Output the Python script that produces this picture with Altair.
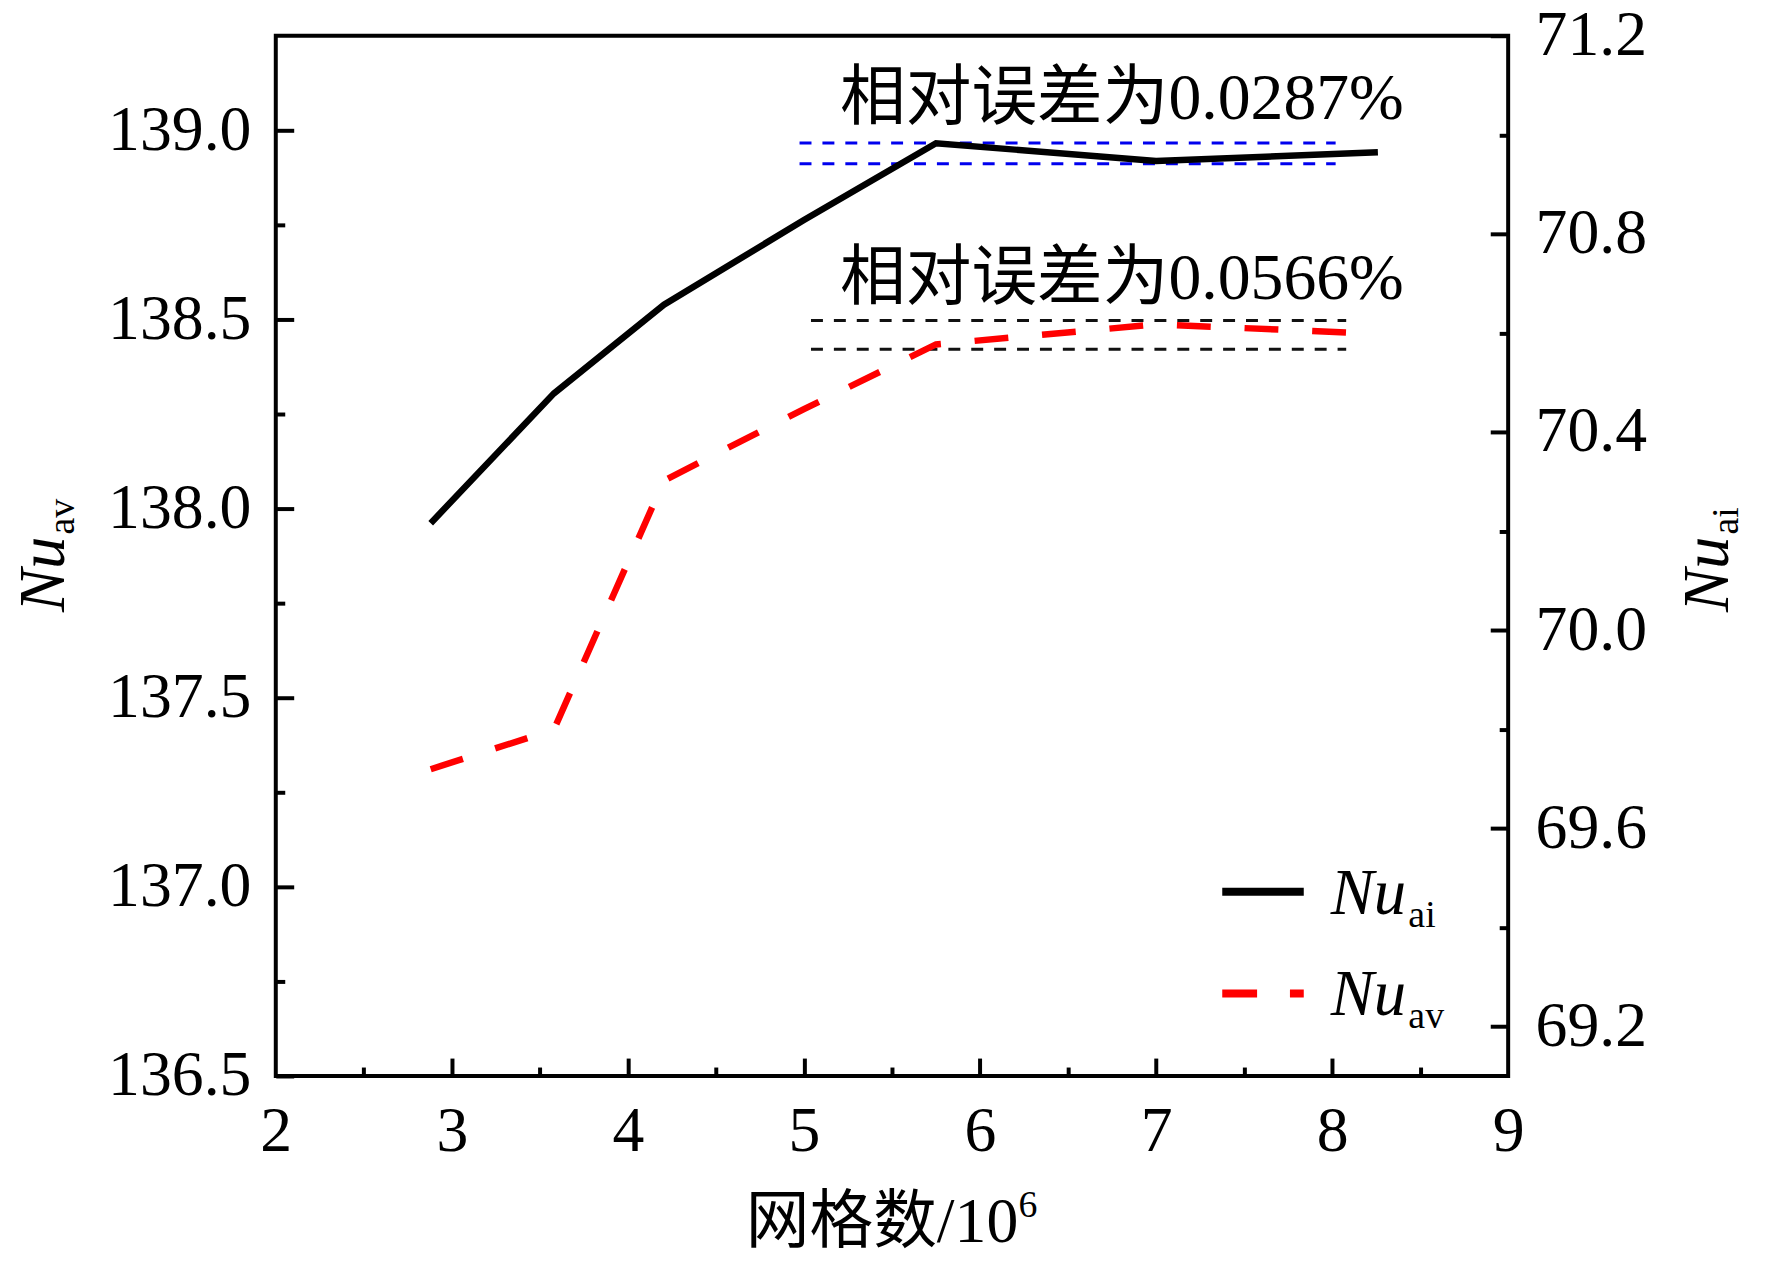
import altair as alt
import pandas as pd

# ---------------- data ----------------
grid = [2.88, 3.58, 4.205, 5.0, 5.75, 7.0, 8.26]          # 网格数 / 10^6
nu_ai = [70.216, 70.478, 70.657, 70.828, 70.983, 70.947, 70.965]   # right axis
nu_av = [137.311, 137.416, 138.074, 138.263, 138.434, 138.487, 138.462]  # left axis

x_ticks = [2, 3, 4, 5, 6, 7, 8, 9]
x_major_inner = [3, 4, 5, 6, 7, 8]
x_minor = [2.5, 3.5, 4.5, 5.5, 6.5, 7.5, 8.5]
av_ticks = [136.5, 137.0, 137.5, 138.0, 138.5, 139.0]
av_minor = [136.75, 137.25, 137.75, 138.25, 138.75]
ai_ticks = [69.2, 69.6, 70.0, 70.4, 70.8, 71.2]
ai_minor = [69.4, 69.8, 70.2, 70.6, 71.0]

X_DOM = [2, 9]
AV_DOM = [136.5, 139.25]
AI_DOM = [69.1, 71.2]

# error-band reference lines
ai_band_x = [4.975, 8.02]
ai_band_y = [70.9835, 70.9414]
av_band_x = [5.04, 8.08]
av_band_y = [138.497, 138.421]

# annotations
ann_text = ["相对误差为0.0287%", "相对误差为0.0566%"]
ann_x = [5.205, 5.205]
ann_y = [139.029, 138.553]

# legend
leg_main = ["Nu", "Nu"]
leg_sub = ["ai", "av"]
leg_line_x = [7.376, 7.839]
leg_line_y = [136.987, 136.718]
leg_text_x = [7.992, 7.992]
leg_text_y = [136.929, 136.6605]

W, H = 1238, 1045
SERIF = "Liberation Serif"
CJK = "Liberation Serif, Noto Sans CJK SC"

df = pd.DataFrame({"x": grid, "ai": nu_ai, "av": nu_av})


def sc(dom):
    return alt.Scale(domain=dom, nice=False, zero=False)


XS = sc(X_DOM)


def tick_axis(orient, values, size):
    return alt.Axis(orient=orient, values=values, ticks=True, tickSize=size,
                    tickWidth=4, tickColor="black", offset=-size, labels=False,
                    domain=False, grid=False, title=None)


base = alt.Chart(df)

red = base.mark_line(color="#ff0000", strokeWidth=6.5, strokeDash=[34, 34]).encode(
    x=alt.X("x:Q", scale=XS, axis=alt.Axis(
        orient="bottom", values=x_ticks, format="d", labelFont=SERIF,
        labelFontSize=64, labelColor="black", labelPadding=75,
        labelBaseline="alphabetic", ticks=False, tickSize=0, domain=False,
        grid=False, title=None, labelFlush=False, labelOverlap=False)),
    y=alt.Y("av:Q", scale=sc(AV_DOM), axis=alt.Axis(
        orient="left", values=av_ticks, format=".1f", labelFont=SERIF,
        labelFontSize=64, labelColor="black", labelPadding=25,
        ticks=False, tickSize=0, domain=False, grid=False, title=None,
        labelFlush=False, labelOverlap=False)),
)

black = base.mark_line(color="#000000", strokeWidth=6.5).encode(
    x=alt.X("x:Q", scale=XS, axis=None),
    y=alt.Y("ai:Q", scale=sc(AI_DOM), axis=alt.Axis(
        orient="right", values=ai_ticks, format=".1f", labelFont=SERIF,
        labelFontSize=64, labelColor="black", labelPadding=27,
        ticks=False, tickSize=0, domain=False, grid=False, title=None,
        labelFlush=False, labelOverlap=False)),
)

ticks_a = base.mark_point(opacity=0).encode(
    x=alt.X("x:Q", scale=XS, axis=tick_axis("bottom", x_major_inner, 18)),
    y=alt.Y("av:Q", scale=sc(AV_DOM), axis=tick_axis("left", av_ticks, 18)),
)
ticks_b = base.mark_point(opacity=0).encode(
    x=alt.X("x:Q", scale=XS, axis=tick_axis("bottom", x_minor, 9)),
    y=alt.Y("av:Q", scale=sc(AV_DOM), axis=tick_axis("left", av_minor, 9)),
)
ticks_c = base.mark_point(opacity=0).encode(
    x=alt.X("x:Q", scale=XS, axis=None),
    y=alt.Y("ai:Q", scale=sc(AI_DOM), axis=tick_axis("right", ai_ticks, 18)),
)
ticks_d = base.mark_point(opacity=0).encode(
    x=alt.X("x:Q", scale=XS, axis=None),
    y=alt.Y("ai:Q", scale=sc(AI_DOM), axis=tick_axis("right", ai_minor, 9)),
)

ai_band = alt.Chart(pd.DataFrame({"x1": [ai_band_x[0]] * 2, "x2": [ai_band_x[1]] * 2,
                                  "y": ai_band_y})).mark_rule(
    color="#0000ee", strokeWidth=3, strokeDash=[12, 11]).encode(
    x=alt.X("x1:Q", scale=XS, axis=None), x2="x2:Q",
    y=alt.Y("y:Q", scale=sc(AI_DOM), axis=None))

av_band = alt.Chart(pd.DataFrame({"x1": [av_band_x[0]] * 2, "x2": [av_band_x[1]] * 2,
                                  "y": av_band_y})).mark_rule(
    color="#111111", strokeWidth=3, strokeDash=[12, 11]).encode(
    x=alt.X("x1:Q", scale=XS, axis=None), x2="x2:Q",
    y=alt.Y("y:Q", scale=sc(AV_DOM), axis=None))

ann = alt.Chart(pd.DataFrame({"x": ann_x, "y": ann_y, "t": ann_text})).mark_text(
    font=CJK, fontSize=66, align="left", baseline="alphabetic", color="black").encode(
    x=alt.X("x:Q", scale=XS, axis=None),
    y=alt.Y("y:Q", scale=sc(AV_DOM), axis=None),
    text="t:N")

leg_df = pd.DataFrame({"x1": [leg_line_x[0]] * 2, "x2": [leg_line_x[1]] * 2,
                       "y": leg_line_y, "tx": leg_text_x, "ty": leg_text_y,
                       "m": leg_main, "s": leg_sub})
leg_black = alt.Chart(leg_df.iloc[[0]]).mark_rule(color="#000000", strokeWidth=8).encode(
    x=alt.X("x1:Q", scale=XS, axis=None), x2="x2:Q",
    y=alt.Y("y:Q", scale=sc(AV_DOM), axis=None))
leg_red = alt.Chart(leg_df.iloc[[1]]).mark_rule(color="#ff0000", strokeWidth=8,
                                                strokeDash=[35, 33]).encode(
    x=alt.X("x1:Q", scale=XS, axis=None), x2="x2:Q",
    y=alt.Y("y:Q", scale=sc(AV_DOM), axis=None))
leg_main_t = alt.Chart(leg_df).mark_text(font=SERIF, fontSize=65, fontStyle="italic",
                                         align="left", baseline="alphabetic",
                                         color="black").encode(
    x=alt.X("tx:Q", scale=XS, axis=None),
    y=alt.Y("ty:Q", scale=sc(AV_DOM), axis=None), text="m:N")
leg_sub_t = alt.Chart(leg_df).mark_text(font=SERIF, fontSize=38, align="left",
                                        baseline="alphabetic", dx=78, dy=13,
                                        color="black").encode(
    x=alt.X("tx:Q", scale=XS, axis=None),
    y=alt.Y("ty:Q", scale=sc(AV_DOM), axis=None), text="s:N")

# axis titles (mixed italic / subscript, so drawn as text)
one = pd.DataFrame({"t": ["网格数/10"], "e": ["6"]})
x_title = alt.Chart(one).mark_text(font=CJK, fontSize=64, align="center",
                                   baseline="alphabetic", color="black").encode(
    x=alt.value(609), y=alt.value(1212), text="t:N")
x_title_sup = alt.Chart(one).mark_text(font=SERIF, fontSize=38, align="left",
                                       baseline="alphabetic", color="black").encode(
    x=alt.value(746), y=alt.value(1187), text="e:N")

ylab = pd.DataFrame({"m": ["Nu"], "s": ["av"], "m2": ["Nu"], "s2": ["ai"]})
yl_main = alt.Chart(ylab).mark_text(font=SERIF, fontSize=65, fontStyle="italic",
                                    angle=270, align="left", baseline="alphabetic",
                                    color="black").encode(
    x=alt.value(-213), y=alt.value(579), text="m:N")
yl_sub = alt.Chart(ylab).mark_text(font=SERIF, fontSize=38, angle=270, align="left",
                                   baseline="alphabetic", color="black").encode(
    x=alt.value(-203), y=alt.value(501), text="s:N")
yr_main = alt.Chart(ylab).mark_text(font=SERIF, fontSize=65, fontStyle="italic",
                                    angle=270, align="left", baseline="alphabetic",
                                    color="black").encode(
    x=alt.value(1459), y=alt.value(579), text="m2:N")
yr_sub = alt.Chart(ylab).mark_text(font=SERIF, fontSize=38, angle=270, align="left",
                                   baseline="alphabetic", color="black").encode(
    x=alt.value(1469), y=alt.value(501), text="s2:N")

chart = alt.layer(
    ai_band, av_band, red, black, ticks_a, ticks_b, ticks_c, ticks_d,
    ann, leg_black, leg_red, leg_main_t, leg_sub_t,
    x_title, x_title_sup, yl_main, yl_sub, yr_main, yr_sub,
).resolve_scale(y="independent").resolve_axis(x="independent", y="independent").properties(
    width=W, height=H,
    autosize=alt.AutoSizeParams(type="none"),
    padding={"left": 269, "top": 25, "right": 257, "bottom": 187},
    background="white",
).configure_view(stroke="black", strokeWidth=4).configure_axis(grid=False)

chart.save("out.html", embed_options={"renderer": "svg", "actions": False})
